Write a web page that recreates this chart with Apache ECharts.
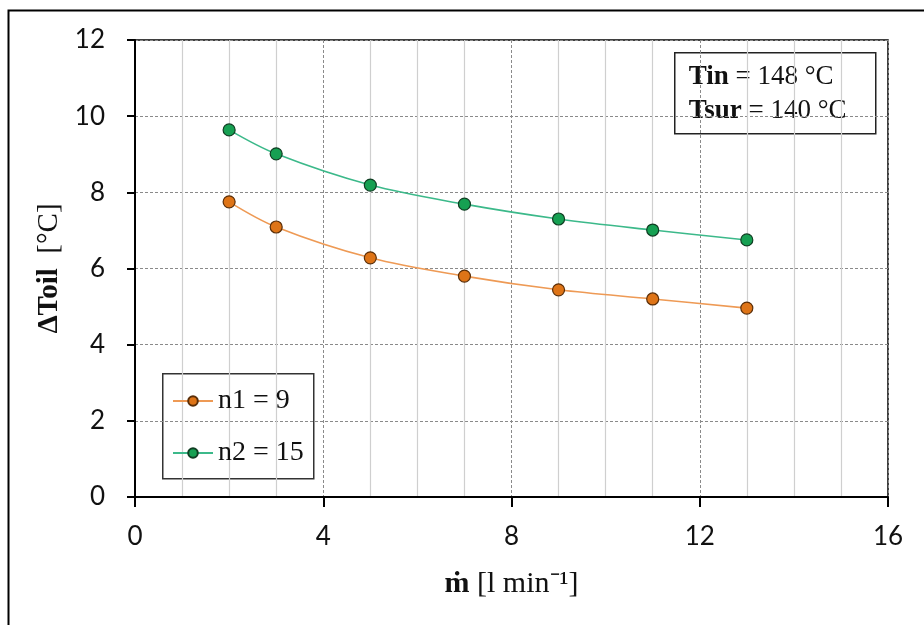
<!DOCTYPE html>
<html>
<head>
<meta charset="utf-8">
<script src="https://cdn.jsdelivr.net/npm/echarts@6/dist/echarts.min.js"></script>
<style>html,body{margin:0;padding:0;background:#fff}#c{width:924px;height:625px}</style>
</head>
<body>
<div id="c"></div>
<script>
const flowRates = [2, 3, 5, 7, 9, 11, 13];
const n1Values = [7.75, 7.09, 6.28, 5.80, 5.44, 5.20, 4.96];
const n2Values = [9.64, 9.01, 8.19, 7.69, 7.30, 7.01, 6.75];
const seriesNames = ['n1 = 9', 'n2 = 15'];
const xTicks = [0, 4, 8, 12, 16];
const yTicks = [0, 2, 4, 6, 8, 10, 12];

const chart = echarts.init(document.getElementById('c'), null, {renderer: 'canvas'});
const serif = '"Liberation Serif","Times New Roman",serif';
const sans = 'Lato, "Open Sans", sans-serif';

function pairs(vals){ return flowRates.map((x,i)=>[x, vals[i]]); }

chart.setOption({
  animation: false,
  backgroundColor: '#fff',
  grid: {left: 135, top: 40, right: 36, bottom: 128, show: true, borderColor: '#000', borderWidth: 1.5, backgroundColor: 'transparent'},
  xAxis: {
    type: 'value', min: xTicks[0], max: xTicks[xTicks.length-1], interval: 4,
    name: '{b|ṁ} [l min⁻¹]', nameLocation: 'middle', nameGap: 72,
    nameTextStyle: {fontFamily: serif, fontSize: 30, color: '#111', rich: {b: {fontFamily: serif, fontSize: 30, fontWeight: 'bold', color: '#111'}}},
    axisLine: {show: true, onZero: false, lineStyle: {color: '#000', width: 2}},
    axisTick: {show: true, length: 10, inside: false, lineStyle: {color: '#000', width: 2}},
    minorTick: {show: false, splitNumber: 4},
    axisLabel: {fontFamily: sans, fontSize: 26, color: '#111', margin: 27},
    splitLine: {show: true, lineStyle: {color: '#8a8a8a', type: [3, 2], width: 1}},
    minorSplitLine: {show: true, lineStyle: {color: '#cfcfcf', width: 1.2}}
  },
  yAxis: {
    type: 'value', min: yTicks[0], max: yTicks[yTicks.length-1], interval: 2,
    name: '{b|ΔToil}  [°C]', nameLocation: 'middle', nameGap: 71, nameRotate: 90,
    nameTextStyle: {fontFamily: serif, fontSize: 29, color: '#111', rich: {b: {fontFamily: serif, fontSize: 29, fontWeight: 'bold', color: '#111'}}},
    axisLine: {show: true, onZero: false, lineStyle: {color: '#000', width: 2}},
    axisTick: {show: true, length: 8, inside: false, lineStyle: {color: '#000', width: 2}},
    axisLabel: {fontFamily: sans, fontSize: 26, color: '#111', margin: 30},
    splitLine: {show: true, lineStyle: {color: '#8a8a8a', type: [3, 2], width: 1}}
  },
  legend: {
    orient: 'vertical', left: 162, top: 373,
    padding: [14, 0, 0, 10], itemGap: 24, itemWidth: 40, itemHeight: 12,
    textStyle: {fontFamily: serif, fontSize: 28, color: '#111'},
    data: seriesNames
  },
  series: [
    {
      name: seriesNames[0], type: 'line', data: pairs(n1Values), smooth: 0.35,
      symbol: 'circle', symbolSize: 12,
      lineStyle: {color: '#EE9A55', width: 1.6},
      itemStyle: {color: '#DE7417', borderColor: '#5a2e08', borderWidth: 1.2}
    },
    {
      name: seriesNames[1], type: 'line', data: pairs(n2Values), smooth: 0.35,
      symbol: 'circle', symbolSize: 12,
      lineStyle: {color: '#3CB98A', width: 1.6},
      itemStyle: {color: '#16A052', borderColor: '#0f3d22', borderWidth: 1.2}
    }
  ],
  graphic: [
    {type: 'rect', left: 6, top: 8, silent: true, z: 100,
     shape: {width: 940, height: 640}, style: {fill: 'none', stroke: '#000', lineWidth: 2}},
    {type: 'rect', left: 162, top: 373, z: -1, silent: true,
     shape: {width: 151, height: 105}, style: {fill: '#fff', stroke: '#333', lineWidth: 1.5}},
    {type: 'group', left: 674, top: 52, z: 50, children: [
      {type: 'rect', shape: {width: 201, height: 81}, style: {fill: '#fff', stroke: '#222', lineWidth: 1.5}},
      {type: 'text', left: 14, top: 7, style: {
        text: '{b|Tin} = 148 °C\n{b|Tsur} = 140 °C',
        font: '27px ' + serif, fill: '#111', lineHeight: 34,
        rich: {b: {fontFamily: serif, fontSize: 27, fontWeight: 'bold', fill: '#111', lineHeight: 34}}
      }}
    ]}
  ]
});
</script>
</body>
</html>
